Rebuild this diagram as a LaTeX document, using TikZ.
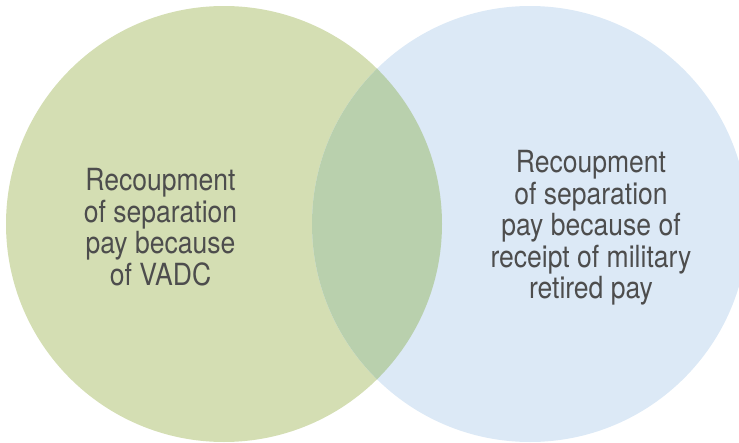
\documentclass[tikz,border=0pt]{standalone}
\usepackage{fontspec}
\newfontfamily\vennfont[FakeStretch=0.87]{TeX Gyre Heros}
\definecolor{vadcgreen}{RGB}{212,222,179}
\definecolor{retiredblue}{RGB}{220,233,246}
\definecolor{bothgreen}{RGB}{185,208,173}
\definecolor{venntext}{RGB}{77,77,77}
\tikzset{venntxt/.style={align=center,inner sep=0pt,text=venntext,font=\vennfont\fontsize{30.5}{31.6}\selectfont}}
\begin{document}
\begin{tikzpicture}[x=1pt,y=-1pt]
\useasboundingbox (0,0) rectangle (739,442);
\clip (0,0) rectangle (739,442);
\fill[vadcgreen] (224,224) circle (218pt);
\fill[retiredblue] (530,224) circle (218pt);
\begin{scope}
\clip (224,224) circle (218pt);
\fill[bothgreen] (530,224) circle (218pt);
\end{scope}
\node[venntxt,anchor=north] (vadc) at (160.5,168) {Recoupment\\of separation\\pay because\\of VADC};
\node[venntxt,anchor=north] (retired) at (591,150) {Recoupment\\of separation\\pay because of\\receipt of military\\retired pay};
\end{tikzpicture}
\end{document}
